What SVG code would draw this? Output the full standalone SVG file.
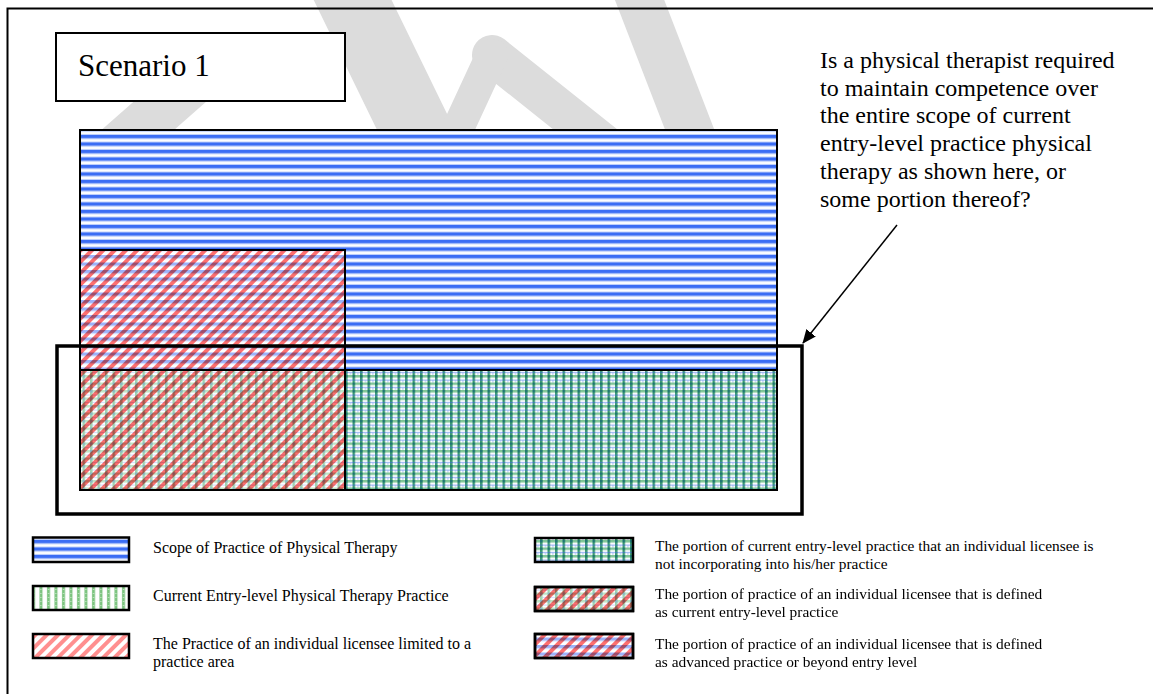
<svg xmlns="http://www.w3.org/2000/svg" width="1153" height="694" viewBox="0 0 1153 694">
<style>
  .serif{font-family:"Liberation Serif","Times New Roman",serif;fill:#000}
  .q{font-size:24px}
  .leg{font-size:16px}
  .legr{font-size:15.4px}
  .edge{fill:none;stroke:#000;stroke-width:2}
  .sw{stroke:#000;stroke-width:2.5}
  .mult{mix-blend-mode:multiply}
  .wm{fill:none;stroke:#dcdcdc;stroke-linecap:round}
</style>
<defs>
  <pattern id="pBlue" patternUnits="userSpaceOnUse" width="8" height="7.5">
    <rect width="8" height="7.5" fill="#fff"/>
    <rect width="8" height="3" fill="#3b6df4"/>
    <rect y="3" width="8" height="1" fill="#7d9ff7"/>
    <rect y="6.5" width="8" height="1" fill="#b9cbfb"/>
  </pattern>
  <pattern id="pBlueL" patternUnits="userSpaceOnUse" width="8" height="7.5">
    <rect width="8" height="7.5" fill="#fff"/>
    <rect width="8" height="3" fill="#9cb2fa"/>
    <rect y="3" width="8" height="1" fill="#c6d4fc"/>
  </pattern>
  <pattern id="pRed" patternUnits="userSpaceOnUse" width="8" height="8" patternTransform="rotate(45)">
    <rect width="8" height="8" fill="#fff"/>
    <rect width="4" height="8" fill="#ff6f6f"/>
  </pattern>
  <pattern id="pRedL" patternUnits="userSpaceOnUse" width="8" height="8" patternTransform="rotate(45)">
    <rect width="8" height="8" fill="#fff"/>
    <rect width="4" height="8" fill="#ff8f8f"/>
  </pattern>
  <pattern id="pCheck" patternUnits="userSpaceOnUse" width="7.5" height="7.5">
    <rect width="7.5" height="7.5" fill="#fff"/>
    <rect width="7.5" height="2.5" fill="#7fc596"/>
    <rect y="4.5" width="7.5" height="1.2" fill="#98b4f4"/>
    <rect width="2.5" height="7.5" fill="#3a9d6c"/>
    <rect width="2.5" height="2.5" fill="#1f7474"/>
    <rect y="4.5" width="2.5" height="1.2" fill="#3f78b8"/>
    <rect x="5" y="6" width="1" height="1" fill="#6f95ef"/>
  </pattern>
  <pattern id="pCheckL" patternUnits="userSpaceOnUse" width="7.5" height="7.5">
    <rect width="7.5" height="7.5" fill="#fff"/>
    <rect width="7.5" height="2.5" fill="#bfe3c4"/>
    <rect y="4.5" width="7.5" height="1" fill="#c9d6fa"/>
    <rect width="2.5" height="7.5" fill="#a0d2ae"/>
    <rect width="2.5" height="2.5" fill="#86b8c8"/>
  </pattern>
  <pattern id="pGreenV" patternUnits="userSpaceOnUse" width="7.5" height="4">
    <rect width="7.5" height="4" fill="#fff"/>
    <rect x="2" width="3" height="4" fill="#7cc47f"/>
    <rect x="3" y="1" width="1" height="1" fill="#d6eed8"/>
  </pattern>
  <marker id="arr" viewBox="0 0 14 12" refX="13" refY="6" markerWidth="14" markerHeight="12" markerUnits="userSpaceOnUse" orient="auto">
    <path d="M0,0 L14,6 L0,12 z" fill="#000"/>
  </marker>
</defs>

<rect width="1153" height="694" fill="#fff"/>

<g id="watermark">
  <path class="wm" stroke-width="48" d="M115,150 L215,62"/>
  <path class="wm" stroke-width="70" d="M338,-30 L455,210"/>
  <path class="wm" stroke-width="40" d="M492,55 L680,205"/>
  <path class="wm" stroke-width="32" d="M492,55 L448,150"/>
  <path class="wm" stroke-width="46" d="M628,-30 L696,146"/>
</g>

<g id="frame">
  <path d="M7.5,694 L7.5,8.5 L1153,8.5" fill="none" stroke="#000" stroke-width="2"/>
</g>

<g id="scenario-box">
  <rect x="56" y="33" width="289" height="68" fill="#fff" stroke="#000" stroke-width="2"/>
  <text class="serif" x="78" y="76" font-size="31">Scenario 1</text>
</g>

<g id="question">
  <text class="serif q" x="820" y="68">Is a physical therapist required</text>
  <text class="serif q" x="820" y="95.7">to maintain competence over</text>
  <text class="serif q" x="820" y="123.4">the entire scope of current</text>
  <text class="serif q" x="820" y="151">entry-level practice physical</text>
  <text class="serif q" x="820" y="178.8">therapy as shown here, or</text>
  <text class="serif q" x="820" y="206.5">some portion thereof?</text>
</g>

<g id="scope-of-practice">
  <rect x="80" y="130" width="697" height="240" fill="url(#pBlue)"/>
</g>
<g id="advanced-practice" style="isolation:isolate">
  <rect x="80" y="250" width="265" height="120" fill="url(#pBlueL)"/>
  <rect class="mult" x="80" y="250" width="265" height="120" fill="url(#pRed)"/>
</g>
<g id="entry-level-not-incorporated">
  <rect x="345" y="370" width="432" height="120" fill="url(#pCheck)"/>
</g>
<g id="entry-level-licensee" style="isolation:isolate">
  <rect x="80" y="370" width="265" height="120" fill="url(#pCheckL)"/>
  <rect class="mult" x="80" y="370" width="265" height="120" fill="url(#pRed)"/>
</g>
<g id="area-borders">
  <rect class="edge" x="80" y="130" width="697" height="240"/>
  <rect class="edge" x="80" y="250" width="265" height="240"/>
  <rect class="edge" x="80" y="370" width="697" height="120"/>
</g>

<g id="entry-level-box">
  <rect x="57" y="346" width="745" height="168" fill="none" stroke="#000" stroke-width="3.5"/>
</g>

<g id="connectors">
  <line x1="897" y1="225" x2="803" y2="343" stroke="#000" stroke-width="1.5" marker-end="url(#arr)"/>
</g>

<g id="legend-scope">
  <rect class="sw" x="33" y="537.5" width="96" height="24.5" fill="url(#pBlue)"/>
  <text class="serif leg" x="153" y="553">Scope of Practice of Physical Therapy</text>
</g>
<g id="legend-entry-level">
  <rect class="sw" x="33" y="586" width="96" height="24" fill="url(#pGreenV)"/>
  <text class="serif leg" x="153" y="601">Current Entry-level Physical Therapy Practice</text>
</g>
<g id="legend-practice-area">
  <rect class="sw" x="33" y="634" width="96" height="24" fill="url(#pRedL)"/>
  <text class="serif leg" x="153" y="649">The Practice of an individual licensee limited to a</text>
  <text class="serif leg" x="153" y="667">practice area</text>
</g>
<g id="legend-not-incorporated">
  <rect class="sw" x="535" y="538" width="98" height="24" fill="url(#pCheck)"/>
  <text class="serif legr" x="655" y="550.5">The portion of current entry-level practice that an individual licensee is</text>
  <text class="serif legr" x="655" y="569">not incorporating into his/her practice</text>
</g>
<g id="legend-current-entry" style="isolation:isolate">
  <rect class="sw" x="535" y="587" width="98" height="24" fill="url(#pCheckL)"/>
  <rect class="mult" x="535" y="587" width="98" height="24" fill="url(#pRed)"/>
  <rect x="535" y="587" width="98" height="24" fill="none" stroke="#000" stroke-width="2.5"/>
  <text class="serif legr" x="655" y="599">The portion of practice of an individual licensee that is defined</text>
  <text class="serif legr" x="655" y="617">as current entry-level practice</text>
</g>
<g id="legend-advanced" style="isolation:isolate">
  <rect class="sw" x="535" y="634" width="98" height="24" fill="url(#pBlueL)"/>
  <rect class="mult" x="535" y="634" width="98" height="24" fill="url(#pRed)"/>
  <rect x="535" y="634" width="98" height="24" fill="none" stroke="#000" stroke-width="2.5"/>
  <text class="serif legr" x="655" y="649">The portion of practice of an individual licensee that is defined</text>
  <text class="serif legr" x="655" y="667">as advanced practice or beyond entry level</text>
</g>
</svg>
